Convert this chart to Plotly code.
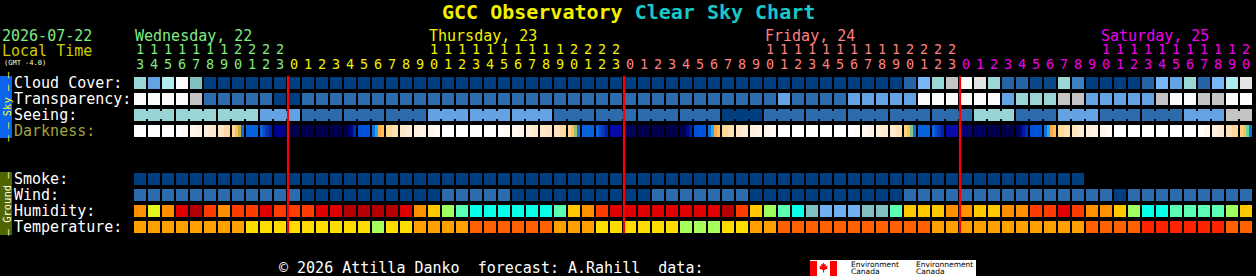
import plotly.graph_objects as go

# ---------------- data ----------------
start_hour = 13          # first column = Wednesday 13h local
n_cols = 80
days = ["Wednesday, 22", "Thursday, 23", "Friday, 24", "Saturday, 25"]
day_colors = ["#80ec80", "#f2f200", "#ff8080", "#f000f0"]

row_labels = ["Cloud Cover:", "Transparency:", "Seeing:", "Darkness:",
              "Smoke:", "Wind:", "Humidity:", "Temperature:"]
row_slots = [0, 1, 2, 3, 6, 7, 8, 9]
row_label_colors = ["#ffffff", "#ffffff", "#ffffff", "#a3a33c",
                    "#ffffff", "#ffffff", "#ffffff", "#ffffff"]

cloud_colors = ["#003f7f", "#0b4888", "#2565a7", "#3e80c4", "#63a3e3", "#77b7f7",
                "#80c0c0", "#9ad7d7", "#aeeeee", "#c4c4c4", "#e4e4e4", "#fbfbfb"]
cloud_level = [7, 4, 8, 11, 6,
               0, 0, 0, 0, 0, 0, 0, 0, 0, 0, 0, 0, 0, 0, 0, 0, 0, 0, 0, 0, 0, 0, 0, 0, 0,
               0, 0, 0, 0, 0, 0, 0, 0, 0, 0, 0, 0, 0, 0, 0, 0, 0, 0, 0, 0, 0, 0, 0, 0, 0,
               2, 5, 7, 9, 11, 10, 7, 2, 2, 1, 1, 7, 3, 0, 0, 0, 0, 2, 5, 4, 7, 2, 5, 8, 10]

trans_colors = ["#fbfbfb", "#c4c4c4", "#99d5d5", "#63a3e3", "#2c6cac", "#003f7f"]
trans_level = [0, 0, 0, 0, 1, 4, 4, 4, 4, 4, 5, 5,
               4, 4, 4, 4, 4, 4, 4, 4, 4, 4, 4, 4, 4, 4, 4, 4, 4, 4, 4, 4, 4, 4,
               4, 4, 4, 4, 4, 4, 4, 4, 4, 4, 4, 4, 3, 4, 4, 4, 4,
               3, 3, 3, 3, 3, 0, 0, 0, 0, 0, 0, 3, 2, 2, 2, 1, 1,
               3, 3, 3, 3, 3, 1, 0, 0, 1, 1, 0, 0]

seeing_colors = ["#fbfbfb", "#c4c4c4", "#99d5d5", "#63a3e3", "#2c6cac", "#003f7f"]
seeing_block = 3          # seeing forecast every 3 hours
seeing_level = [2, 2, 2, 3, 4, 4, 4, 3, 3, 3, 4, 4, 4, 4, 5, 4, 4, 4, 4, 4,
                2, 4, 3, 4, 4, 3, 1]

darkness = [
    "#ffffff", "#ffffff", "#ffffff",
    ("#ffffff", "#fffaf4"),
    ("#fff6ea", "#fff0e0"),
    ("#ffeedb", "#ffe6cc"),
    ("#ffe4c0", "#ffd8a8"),
    ("#ffd590", "#fcc060", "#c8b040", "#1468d8"),
    "#0862dc",
    ("#1060e0", "#0a48c8", "#0830b0", "#0020a0"),
    "#000090",
    "#00004c", "#00004c", "#00004c", "#00004c",
    ("#00004c", "#000060", "#000a80", "#0030b0"),
    "#0052d8",
    ("#1070e0", "#18a8ff", "#ffb040", "#ffc060"),
    ("#ffd898", "#ffe0b0"),
    ("#ffe8c8", "#ffecd2"),
    ("#fff0dc", "#fff4e4"),
    ("#fff6ea", "#fff9f2"),
    "#ffffff", "#ffffff", "#ffffff", "#ffffff",
    ("#ffffff", "#fffaf4"),
    ("#fff8f0", "#fff2e4"),
    ("#fff0dc", "#ffeacc"),
    ("#ffe8c8", "#ffe2bc"),
    ("#ffe4c0", "#ffd8a8"),
    ("#ffd590", "#ffc060", "#98c068", "#1870e0"),
    "#0862dc",
    ("#0a60e0", "#0848c8", "#0838b8", "#0020a8"),
    "#0808a8",
    "#00005a", "#00004c", "#00004c", "#00004c",
    ("#00004c", "#000058", "#000a80", "#0020a8"),
    "#0052d8",
    ("#1070e0", "#18a8ff", "#ffa840", "#ffc060"),
    ("#ffd898", "#ffe0b0"),
    ("#ffe6c4", "#ffecd0"),
    ("#fff0dc", "#fff4e4"),
    ("#fff6ea", "#fffaf2"),
    "#ffffff", "#ffffff", "#ffffff", "#ffffff", "#ffffff",
    ("#ffffff", "#fffaf4"),
    ("#fff8f0", "#fff2e4"),
    ("#fff0dc", "#ffeacc"),
    ("#ffe8cc", "#ffe0b8"),
    ("#ffd080", "#ffc060", "#80c880", "#1a70e0"),
    "#0862dc",
    ("#0a60e0", "#0848c8", "#0838b8", "#0020a8"),
    "#0a0aa8",
    "#000070", "#000060", "#00004c", "#00004c",
    ("#00005a", "#000870", "#0018a0", "#0030c0"),
    "#0052d8",
    ("#1070e0", "#18a8ff", "#ffa840", "#ffc060"),
    ("#ffd898", "#ffe0b0"),
    ("#ffe4c0", "#ffecd0"),
    ("#fff0dc", "#fff4e4"),
    ("#fff6ea", "#fffaf2"),
    "#ffffff", "#ffffff", "#ffffff", "#ffffff", "#ffffff", "#ffffff",
    ("#ffffff", "#fff6ec"),
    ("#fff0e0", "#ffe8cc"),
    ("#ffe0b8", "#ffd8a0"),
    ("#ffd080", "#ffc060", "#60d8a0", "#1070e0"),
]

smoke_colors = ["#003f7f"]
smoke_level = [0, 0, 0, 0, 0, 0, 0, 0, 0, 0, 0, 0, 0, 0, 0, 0, 0, 0, 0, 0,
               0, 0, 0, 0, 0, 0, 0, 0, 0, 0, 0, 0, 0, 0, 0, 0, 0, 0, 0, 0,
               0, 0, 0, 0, 0, 0, 0, 0, 0, 0, 0, 0, 0, 0, 0, 0, 0, 0, 0, 0,
               0, 0, 0, 0, 0, 0, 0, 0]

wind_colors = ["#003f7f", "#2c6cac"]
wind_level = [1, 1, 1, 1, 1, 1, 1, 1, 1, 1, 1, 1,
              0, 0, 0, 0, 0, 0, 0, 0, 0, 0,
              1, 1, 1, 1, 1,
              0, 0, 0, 0, 0, 0, 0, 0, 0, 0,
              1, 1, 1, 1, 1, 1, 1,
              0, 0, 0, 0, 0, 0, 0, 0, 0, 0, 0,
              1, 1, 1, 1, 1, 1, 1, 1, 1, 1, 1, 1, 1, 1, 1,
              0,
              1, 1, 1, 1, 1, 1, 1, 1, 1]

hum_colors = ["#70b0f0", "#80c0c0", "#08ffe8", "#5affb4", "#a0ff60", "#e5f51a",
              "#ffc800", "#ff9000", "#ff3c00", "#e00000", "#b40000"]
hum_level = [7, 5, 7, 9, 10, 8, 7, 8, 8, 9, 8, 8, 8, 9, 9, 10, 10, 10, 10, 9,
             7, 6, 4, 3, 2, 2, 2, 2, 2, 2, 3, 6, 7, 8, 9, 9, 9, 9, 9, 9,
             9, 9, 10, 8, 6, 4, 3, 2, 1, 0, 0, 0, 1, 1, 3, 6, 6, 6, 7, 7,
             6, 6, 7, 7, 8, 8, 9, 8, 7, 7, 6, 4, 2, 2, 3, 3, 3, 3, 4, 6]

temp_colors = ["#a6ff5a", "#ffdc00", "#ffa000", "#ff6000", "#ff2400"]
temp_level = [2, 2, 2, 2, 2, 2, 2, 2, 1, 1, 1, 1, 1, 1, 1, 1, 1, 0, 1, 1,
              2, 2, 2, 2, 3, 3, 3, 3, 3, 3, 2, 2, 2, 1, 1, 1, 1, 1, 1, 0,
              0, 0, 1, 1, 2, 2, 3, 3, 3, 3, 3, 3, 3, 3, 3, 3, 3, 2, 2, 2,
              2, 2, 2, 2, 2, 2, 2, 2, 3, 3, 3, 3, 4, 4, 4, 4, 4, 4, 3, 3]

assert len(darkness) == n_cols and len(cloud_level) == n_cols
assert len(trans_level) == n_cols and len(wind_level) == n_cols
assert len(hum_level) == n_cols and len(temp_level) == n_cols

# ---------------- layout constants ----------------
W, H = 1256, 276
X0, PX, CW = 134, 14, 12        # first cell left px, column pitch, cell width
Y0, PY, CH = 77, 16, 12         # first row top px, row pitch, cell height
MONO = "DejaVu Sans Mono"

def cx(px):
    return (px - X0) / PX

def ry(py):
    return (py - Y0) / PY

def xp(px):
    return px / W

def yp(py):
    return 1 - py / H

cw = CW / PX
ch = CH / PY

fig = go.Figure()

def add_rects(lefts, widths, tops, heights, colors):
    fig.add_trace(go.Bar(
        x=[l + w / 2 for l, w in zip(lefts, widths)], y=heights, base=tops,
        width=widths, marker=dict(color=colors, line=dict(width=0)),
        hoverinfo="skip", showlegend=False))

def add_row(slot, levels, palette):
    n = len(levels)
    add_rects(list(range(n)), [cw] * n, [slot] * n, [ch] * n,
              [palette[v] for v in levels])

add_row(0, cloud_level, cloud_colors)
add_row(1, trans_level, trans_colors)

# seeing: per 3h block, cells joined inside a block
see_cols = [seeing_level[c // seeing_block] for c in range(n_cols)]
add_row(2, see_cols, seeing_colors)
jl, jw, jt, jh, jc = [], [], [], [], []
for c in range(n_cols - 1):
    if c // seeing_block == (c + 1) // seeing_block:
        jl.append(c + cw - 0.02)
        jw.append(1 - cw + 0.04)
        jt.append(2 + 2 / PY)
        jh.append(8 / PY)
        jc.append(seeing_colors[see_cols[c]])
add_rects(jl, jw, jt, jh, jc)

# darkness with sub-hour stripes
dl, dw, dt, dh, dc = [], [], [], [], []
for c, v in enumerate(darkness):
    parts = (v,) if isinstance(v, str) else v
    sw = cw / len(parts)
    for k, col in enumerate(parts):
        dl.append(c + k * sw)
        dw.append(sw)
        dt.append(3)
        dh.append(ch)
        dc.append(col)
add_rects(dl, dw, dt, dh, dc)

add_row(6, smoke_level, smoke_colors)
add_row(7, wind_level, wind_colors)
add_row(8, hum_level, hum_colors)
add_row(9, temp_level, temp_colors)

# midnight lines
for c in range(n_cols):
    if (start_hour + c) % 24 == 0:
        fig.add_trace(go.Scatter(
            x=[c, c], y=[ry(76), ry(233)], mode="lines",
            line=dict(color="#ff0000", width=2.2), hoverinfo="skip", showlegend=False))

# hour digits
tx, ty, tt, tc = [], [], [], []
for c in range(n_cols):
    hh = start_hour + c
    d, hr = hh // 24, hh % 24
    col = day_colors[d]
    if hr >= 10:
        tx.append(c + cw / 2); ty.append(ry(51)); tt.append(str(hr // 10)); tc.append(col)
    tx.append(c + cw / 2); ty.append(ry(65.5)); tt.append(str(hr % 10)); tc.append(col)
fig.add_trace(go.Scatter(x=tx, y=ty, text=tt, mode="text", textposition="middle center",
                         textfont=dict(family=MONO, size=13.5, color=tc),
                         hoverinfo="skip", showlegend=False, cliponaxis=False))

ann = []
# day labels at first two-digit hour of each day
for d, name in enumerate(days):
    first = None
    for c in range(n_cols):
        hh = start_hour + c
        if hh // 24 == d and hh % 24 >= 10:
            first = c
            break
    if first is not None:
        ann.append(dict(x=first, y=ry(36), xref="x", yref="y", text=name,
                        xanchor="left", yanchor="middle", showarrow=False, borderpad=0,
                        font=dict(family=MONO, size=15, color=day_colors[d])))

# row labels
for lab, slot, col in zip(row_labels, row_slots, row_label_colors):
    ann.append(dict(x=xp(13), y=yp(Y0 + slot * PY + 6), xref="paper", yref="paper",
                    text=lab, xanchor="left", yanchor="middle", showarrow=False, borderpad=0,
                    font=dict(family=MONO, size=15, color=col)))

ann += [
    dict(x=0.5, y=yp(12.5), xref="paper", yref="paper", showarrow=False,
         xanchor="center", yanchor="middle", borderpad=0,
         text="<b><span style='color:#f2f200'>GCC Observatory</span> "
              "<span style='color:#19c8c8'>Clear Sky Chart</span></b>",
         font=dict(family=MONO, size=20)),
    dict(x=xp(1), y=yp(36), xref="paper", yref="paper", text="2026-07-22", showarrow=False,
         xanchor="left", yanchor="middle", borderpad=0,
         font=dict(family=MONO, size=15, color="#80ec80")),
    dict(x=xp(1), y=yp(51), xref="paper", yref="paper", text="Local Time", showarrow=False,
         xanchor="left", yanchor="middle", borderpad=0,
         font=dict(family=MONO, size=15, color="#cccc00")),
    dict(x=xp(3), y=yp(62.5), xref="paper", yref="paper", text="(GMT -4.0)", showarrow=False,
         xanchor="left", yanchor="middle", borderpad=0,
         font=dict(family=MONO, size=7, color="#ffffcc")),
    dict(x=xp(6.5), y=yp(107), xref="paper", yref="paper", text="\u2013 \u2013 Sky \u2013 \u2013",
         showarrow=False, textangle=-90, xanchor="center", yanchor="middle", borderpad=0,
         font=dict(family=MONO, size=10.5, color="#ffff00")),
    dict(x=xp(6.5), y=yp(204), xref="paper", yref="paper", text="\u2013 Ground \u2013",
         showarrow=False, textangle=-90, xanchor="center", yanchor="middle", borderpad=0,
         font=dict(family=MONO, size=10.5, color="#ffffff")),
    dict(x=xp(278), y=yp(268), xref="paper", yref="paper",
         text="\u00a9 2026 Attilla Danko\u00a0\u00a0forecast: A.Rahill\u00a0\u00a0data:",
         showarrow=False, xanchor="left", yanchor="middle", borderpad=0,
         font=dict(family=MONO, size=15, color="#ffffff")),
    dict(x=xp(850), y=yp(264.5), xref="paper", yref="paper", text="Environment", showarrow=False,
         xanchor="left", yanchor="middle", borderpad=0,
         font=dict(family="DejaVu Sans", size=7.5, color="#000000")),
    dict(x=xp(850), y=yp(271.5), xref="paper", yref="paper", text="Canada", showarrow=False,
         xanchor="left", yanchor="middle", borderpad=0,
         font=dict(family="DejaVu Sans", size=7.5, color="#000000")),
    dict(x=xp(915), y=yp(264.5), xref="paper", yref="paper", text="Environnement", showarrow=False,
         xanchor="left", yanchor="middle", borderpad=0,
         font=dict(family="DejaVu Sans", size=7.5, color="#000000")),
    dict(x=xp(915), y=yp(271.5), xref="paper", yref="paper", text="Canada", showarrow=False,
         xanchor="left", yanchor="middle", borderpad=0,
         font=dict(family="DejaVu Sans", size=7.5, color="#000000")),
]

def prect(x0, y0, x1, y1, color, layer="below"):
    return dict(type="rect", xref="paper", yref="paper", x0=xp(x0), x1=xp(x1),
                y0=yp(y1), y1=yp(y0), fillcolor=color, line=dict(width=0), layer=layer)

leaf = [(0, -5), (1, -3), (2.5, -3.5), (2, -1), (4, -2), (3.5, 0.5), (4.5, 1), (1, 2.5),
        (0.5, 2.5), (0.5, 5), (-0.5, 5), (-0.5, 2.5), (-1, 2.5), (-4.5, 1), (-3.5, 0.5),
        (-4, -2), (-2, -1), (-2.5, -3.5), (-1, -3)]
lx, ly = 823.5, 267.5
leaf_path = "M " + " L ".join(f"{xp(lx + a):.5f},{yp(ly + b):.5f}" for a, b in leaf) + " Z"

shapes = [
    prect(0, 76, 12, 138, "#0a64ee"),
    prect(0, 172, 12, 235, "#4f6600"),
    prect(810, 260, 976, 276, "#ffffff"),
    prect(810, 261, 817, 276, "#ff0000"),
    prect(830, 261, 837, 276, "#ff0000"),
    dict(type="path", xref="paper", yref="paper", path=leaf_path,
         fillcolor="#ff0000", line=dict(width=0), layer="below"),
]

fig.update_layout(
    width=W, height=H, autosize=False,
    margin=dict(l=0, r=0, t=0, b=0, pad=0),
    paper_bgcolor="#000000", plot_bgcolor="#000000",
    barmode="overlay", showlegend=False,
    xaxis=dict(range=[cx(0), cx(W)], visible=False, fixedrange=True),
    yaxis=dict(range=[ry(H), ry(0)], visible=False, fixedrange=True),
    annotations=ann, shapes=shapes,
)

fig.write_html("out.html", config={"displayModeBar": False})
